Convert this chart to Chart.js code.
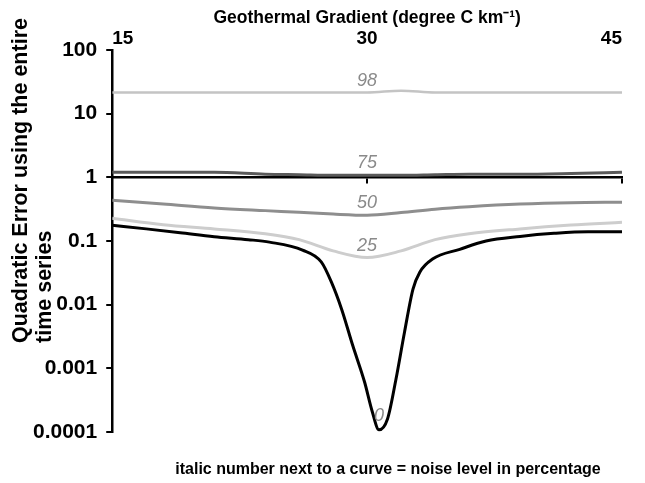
<!DOCTYPE html>
<html>
<head>
<meta charset="utf-8">
<script src="https://cdn.jsdelivr.net/npm/chart.js@4.4.1/dist/chart.umd.min.js"></script>
<style>
  body { margin: 0; background: #fff; }
</style>
</head>
<body>
<canvas id="chart" width="645" height="483"></canvas>
<script>
// x positions (geothermal gradient, degree C / km)
const gradient = [15, 18, 21, 24, 26, 28, 30, 32, 34, 36, 39, 42, 45];
const gradientNoNoise = [15, 17, 19, 21, 23, 24.25, 26.2, 27.3, 27.9, 28.5, 29.15, 29.85, 30.3, 30.7,
    31.2, 31.7, 32.2, 32.7, 33.1, 33.85, 35.45, 37, 39, 41, 43, 45];

// quadratic error per noise level
const error98 = [21.5, 21.5, 21.5, 21.5, 21.5, 21.5, 21.5, 23, 21.5, 21.5, 21.5, 21.5, 21.5];
const error75 = [1.2, 1.2, 1.2, 1.12, 1.1, 1.08, 1.08, 1.08, 1.1, 1.12, 1.12, 1.15, 1.2];
const error50 = [0.436, 0.38, 0.33, 0.3, 0.283, 0.265, 0.254, 0.28, 0.316, 0.345, 0.38, 0.4, 0.406];
const error25 = [0.228, 0.18, 0.155, 0.13, 0.105, 0.07, 0.055, 0.07, 0.105, 0.13, 0.155, 0.178, 0.197];
const error0 = [0.177, 0.155, 0.135, 0.117, 0.105, 0.096, 0.072, 0.047, 0.0226, 0.0085, 0.0023, 0.00061,
    0.00021, 0.000108, 0.00016, 0.00068, 0.0037, 0.0176, 0.0324, 0.052, 0.074, 0.1, 0.118, 0.132, 0.14, 0.14];

const noiseLevels = ['98', '75', '50', '25', '0'];
const xTicks = [15, 30, 45];
const yTicks = [0.0001, 0.001, 0.01, 0.1, 1, 10, 100];
const yTickLabels = ['0.0001', '0.001', '0.01', '0.1', '1', '10', '100'];

const yTitle = ['Quadratic Error using the entire', 'time series'];
const footnote = 'italic number next to a curve = noise level in percentage';

const FONT = '"Liberation Sans", Arial, Helvetica, sans-serif';

function points(xs, ys) {
    return xs.map((x, i) => ({ x: x, y: ys[i] }));
}

// labels on curves, axis title on the left and the note under the chart
const textLayer = {
    id: 'textLayer',
    afterDatasetsDraw(chart) {
        const ctx = chart.ctx;
        const xs = chart.scales.x;
        const ys = chart.scales.y;
        ctx.save();
        ctx.font = 'italic 18px ' + FONT;
        ctx.fillStyle = '#8a8a8a';
        ctx.textAlign = 'center';
        ctx.textBaseline = 'middle';
        chart.data.datasets.forEach((ds, i) => {
            let pt, dy;
            if (i === 4) {
                pt = ds.data.reduce((a, b) => (b.y < a.y ? b : a));
                dy = -14;
            } else {
                pt = ds.data.find(p => p.x === 30);
                dy = -12;
            }
            ctx.fillText(noiseLevels[i], xs.getPixelForValue(pt.x), ys.getPixelForValue(pt.y) + dy);
        });

        // rotated y title, both lines start at the same height
        ctx.fillStyle = '#000';
        ctx.textAlign = 'left';
        ctx.font = 'bold 21.5px ' + FONT;
        [[21, 343], [45, 343]].forEach((p, i) => {
            ctx.save();
            ctx.translate(p[0], p[1]);
            ctx.rotate(-Math.PI / 2);
            ctx.fillText(yTitle[i], 0, 0);
            ctx.restore();
        });

        ctx.font = 'bold 16px ' + FONT;
        ctx.textAlign = 'center';
        ctx.fillText(footnote, 388, 470);
        ctx.restore();
    }
};

const ctx = document.getElementById('chart').getContext('2d');
new Chart(ctx, {
    type: 'line',
    data: {
        datasets: [
            { label: '98', data: points(gradient, error98), borderColor: '#c4c4c4', borderWidth: 2.5 },
            { label: '75', data: points(gradient, error75), borderColor: '#5a5a5a', borderWidth: 3 },
            { label: '50', data: points(gradient, error50), borderColor: '#8e8e8e', borderWidth: 3 },
            { label: '25', data: points(gradient, error25), borderColor: '#cdcdcd', borderWidth: 3 },
            { label: '0', data: points(gradientNoNoise, error0), borderColor: '#000000', borderWidth: 3 }
        ]
    },
    options: {
        responsive: false,
        animation: false,
        elements: {
            point: { radius: 0 },
            line: { cubicInterpolationMode: 'monotone' }
        },
        layout: { padding: { left: 24, right: 23, top: 8, bottom: 51 } },
        plugins: {
            legend: { display: false },
            tooltip: { enabled: false }
        },
        scales: {
            x: {
                type: 'linear',
                position: 'top',
                min: 15,
                max: 45,
                afterBuildTicks: scale => { scale.ticks = xTicks.map(v => ({ value: v })); },
                grid: { display: false },
                border: { display: false },
                ticks: {
                    color: '#000',
                    padding: -6,
                    align: 'inner',
                    maxRotation: 0,
                    font: { family: FONT, size: 19, weight: 'bold', lineHeight: 1 }
                },
                title: {
                    display: true,
                    text: 'Geothermal Gradient (degree C km\u207B\u00B9)',
                    color: '#000',
                    padding: { top: 0, bottom: 6 },
                    font: { family: FONT, size: 17.5, weight: 'bold' }
                }
            },
            // axis line crossing the chart at an error of 1
            x2: {
                type: 'linear',
                position: { y: 1 },
                min: 15,
                max: 45,
                afterBuildTicks: scale => { scale.ticks = xTicks.map(v => ({ value: v })); },
                grid: { drawOnChartArea: false, drawTicks: true, tickLength: 5, color: '#000', lineWidth: 2 },
                border: { color: '#000', width: 2.5 },
                ticks: { display: false }
            },
            y: {
                type: 'logarithmic',
                position: 'left',
                min: 0.0001,
                max: 100,
                afterBuildTicks: scale => { scale.ticks = yTicks.map(v => ({ value: v })); },
                grid: { drawOnChartArea: false, drawTicks: true, tickLength: 6, color: '#000', lineWidth: 2 },
                border: { color: '#000', width: 2.5 },
                ticks: {
                    color: '#000',
                    padding: 9,
                    font: { family: FONT, size: 21, weight: 'bold' },
                    callback: (v, i) => yTickLabels[i]
                }
            }
        }
    },
    plugins: [textLayer]
});
</script>
</body>
</html>
